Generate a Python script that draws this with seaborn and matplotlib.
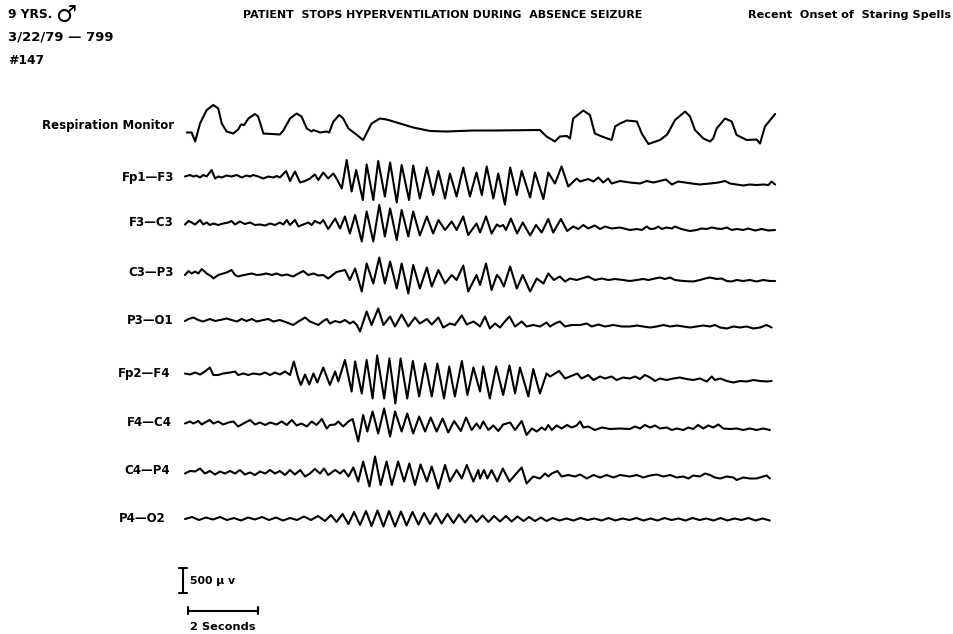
import matplotlib
matplotlib.use("Agg")
import numpy as np
import pandas as pd
import matplotlib.pyplot as plt
import seaborn as sns

# ---------------- data: time (s) and amplitude (µV) of the turning points ----------------
channels = ["Respiration Monitor", "Fp1—F3", "F3—C3", "C3—P3", "P3—O1",
            "Fp2—F4", "F4—C4", "C4—P4", "P4—O2"]

resp_t = [0.05,0.19,0.29,0.43,0.62,0.81,0.95,1.05,1.19,1.38,
          1.52,1.60,1.69,1.81,2.00,2.09,2.24,2.71,2.81,3.00,
          3.19,3.33,3.48,3.62,3.67,3.86,4.05,4.12,4.24,4.41,
          4.52,4.67,4.86,5.09,5.33,5.57,5.76,6.05,6.52,7.00,
          7.48,8.24,8.81,10.14,10.33,10.57,10.71,10.91,11.00,11.09,
          11.38,11.57,11.71,11.91,12.19,12.29,12.43,12.62,12.91,13.05,
          13.24,13.57,13.76,13.81,14.00,14.29,14.43,14.57,14.81,15.00,
          15.09,15.19,15.43,15.62,15.76,16.05,16.33,16.43,16.57,16.86]
resp_uv = [-110,-110,-290,70,340,440,370,70,-90,-130,
           -50,50,40,170,260,210,-130,-150,-70,170,
           270,210,-30,-90,-60,-110,-90,-110,110,240,
           170,-30,-130,-260,70,170,150,90,-10,-80,
           -90,-70,-70,-60,-190,-290,-190,-180,-230,170,
           330,240,-130,-190,-260,10,70,130,110,-130,
           -340,-260,-160,-110,140,310,210,-60,-230,-290,
           -230,-30,170,110,-160,-260,-250,-330,10,260]

fp1_f3_t = [0.00,0.14,0.24,0.33,0.43,0.52,0.62,0.76,0.86,0.95,
            1.05,1.19,1.33,1.48,1.62,1.76,1.86,1.95,2.09,2.24,
            2.38,2.52,2.62,2.71,2.89,3.00,3.14,3.29,3.43,3.57,
            3.71,3.81,3.95,4.09,4.24,4.33,4.48,4.62,4.76,4.89,
            5.08,5.19,5.38,5.52,5.71,5.86,6.05,6.19,6.40,6.52,
            6.71,6.91,7.09,7.24,7.43,7.57,7.76,7.95,8.14,8.33,
            8.48,8.62,8.81,8.95,9.14,9.29,9.48,9.62,9.86,10.00,
            10.24,10.38,10.57,10.76,10.95,11.19,11.29,11.52,11.67,11.81,
            11.95,12.09,12.19,12.43,12.71,13.00,13.19,13.38,13.57,13.74,
            13.91,14.09,14.29,14.48,14.71,15.00,15.24,15.43,15.57,15.76,
            15.95,16.14,16.33,16.52,16.67,16.76,16.86]
fp1_f3_uv = [10,40,10,30,-10,40,10,140,-30,10,
             -10,30,10,40,-10,30,10,40,10,-30,
             10,-10,20,-10,120,-80,110,-110,-80,-30,
             50,-60,90,-30,70,-30,-230,340,-290,140,
             -460,250,-460,320,-390,290,-510,240,-460,230,
             -430,190,-360,120,-430,70,-390,190,-390,90,
             -360,210,-430,70,-550,190,-360,120,-410,90,
             -440,90,-130,210,-190,-30,-90,-40,-90,-10,
             -110,-30,-130,-80,-110,-130,-80,-110,-80,-50,
             -150,-90,-110,-130,-150,-130,-110,-80,-130,-150,
             -170,-150,-160,-150,-160,-90,-150]

f3_c3_t = [0.00,0.10,0.19,0.29,0.43,0.52,0.62,0.71,0.81,0.95,
           1.09,1.24,1.33,1.43,1.57,1.71,1.86,2.00,2.14,2.29,
           2.43,2.57,2.71,2.81,2.91,3.00,3.14,3.24,3.38,3.52,
           3.62,3.71,3.86,3.95,4.09,4.14,4.29,4.43,4.57,4.71,
           4.86,5.05,5.19,5.38,5.55,5.71,5.86,6.05,6.19,6.38,
           6.52,6.71,6.91,7.09,7.24,7.43,7.62,7.76,7.95,8.09,
           8.33,8.43,8.60,8.76,8.91,9.00,9.09,9.17,9.31,9.49,
           9.65,9.86,10.03,10.19,10.38,10.52,10.74,10.92,11.09,11.24,
           11.38,11.52,11.71,11.86,12.00,12.19,12.43,12.71,12.91,13.05,
           13.19,13.29,13.43,13.52,13.62,13.76,13.91,14.00,14.14,14.29,
           14.43,14.62,14.76,14.91,15.05,15.19,15.33,15.48,15.62,15.76,
           15.95,16.09,16.29,16.48,16.67,16.86]
f3_c3_uv = [-10,60,30,-10,80,-10,30,-20,10,-20,
            10,30,60,-10,50,0,30,-20,-10,-30,
            10,-20,30,-10,80,-20,80,-50,-10,30,
            -20,60,10,80,-100,-50,110,-90,150,-190,
            180,-350,250,-350,380,-250,310,-320,280,-250,
            250,-230,150,-190,80,-120,50,-120,150,-220,
            10,-170,150,-190,-10,-50,-20,-120,110,-190,
            30,-230,-20,-170,100,-170,100,-140,-50,-100,
            -20,-90,-30,-100,-50,-90,-70,-120,-100,-120,
            -50,-100,-90,-50,-100,-70,-90,-50,-90,-120,
            -140,-120,-90,-100,-70,-90,-100,-70,-120,-100,
            -120,-90,-130,-100,-130,-120]

c3_p3_t = [0.00,0.10,0.19,0.29,0.38,0.48,0.62,0.76,0.81,0.95,
           1.09,1.19,1.33,1.43,1.52,1.62,1.76,1.91,2.05,2.19,
           2.33,2.48,2.62,2.76,2.91,3.09,3.24,3.38,3.52,3.67,
           3.81,3.95,4.09,4.33,4.57,4.71,4.86,5.05,5.19,5.38,
           5.55,5.71,5.86,6.05,6.19,6.38,6.52,6.71,6.91,7.05,
           7.24,7.43,7.62,7.76,7.95,8.09,8.33,8.43,8.60,8.76,
           8.91,9.00,9.11,9.29,9.48,9.65,9.86,10.05,10.24,10.38,
           10.54,10.71,10.86,11.00,11.19,11.33,11.52,11.71,11.91,12.09,
           12.29,12.52,12.71,12.91,13.09,13.24,13.43,13.57,13.71,13.86,
           14.00,14.24,14.52,14.71,14.86,15.00,15.19,15.33,15.48,15.62,
           15.76,15.95,16.14,16.33,16.52,16.71,16.86]
c3_p3_uv = [-40,40,-10,30,-10,80,-10,-70,-110,-40,
            -10,10,60,-40,-70,-50,-30,-10,-40,-30,
            -10,-40,-10,-50,-30,-70,-10,40,-40,-10,
            -50,-40,-110,20,60,-140,90,-370,190,-210,
            310,-210,230,-310,190,-410,160,-310,110,-270,
            60,-210,-40,-140,150,-370,-40,-240,190,-340,
            -40,-110,-270,130,-310,-40,-370,-110,-210,-10,
            -140,-70,-170,-110,-140,-110,-70,-140,-110,-140,
            -120,-140,-160,-140,-120,-140,-110,-90,-120,-90,
            -140,-160,-170,-140,-110,-90,-120,-110,-160,-170,
            -140,-160,-140,-170,-140,-160,-160]

p3_o1_t = [0.00,0.10,0.24,0.38,0.52,0.71,0.86,1.00,1.19,1.33,
           1.48,1.62,1.76,1.91,2.05,2.24,2.38,2.52,2.71,2.91,
           3.09,3.24,3.43,3.57,3.71,3.81,3.95,4.05,4.14,4.29,
           4.43,4.57,4.71,4.81,4.91,5.00,5.19,5.33,5.52,5.67,
           5.86,6.00,6.19,6.38,6.57,6.71,6.91,7.05,7.24,7.38,
           7.57,7.71,7.91,8.05,8.24,8.38,8.43,8.57,8.71,8.86,
           9.00,9.14,9.27,9.43,9.62,9.76,9.95,10.14,10.33,10.43,
           10.57,10.71,10.86,11.05,11.29,11.48,11.62,11.81,12.00,12.24,
           12.48,12.71,12.91,13.09,13.29,13.48,13.67,13.86,14.05,14.24,
           14.43,14.62,14.81,15.00,15.14,15.29,15.48,15.67,15.86,16.05,
           16.24,16.43,16.62,16.76]
p3_o1_uv = [-20,20,50,0,-30,20,-20,0,30,0,
            -30,20,-20,20,-30,0,20,-30,0,-50,
            -100,-30,50,-30,-70,-100,-20,20,-70,-20,
            -50,0,-70,-30,-100,-230,170,-100,230,-100,
            70,-130,110,-130,50,-70,20,-90,50,-150,
            -70,-100,90,-90,-30,-100,-130,70,-170,-70,
            -150,-30,70,-130,-30,-130,-100,-130,-50,-130,
            -70,-30,-130,-100,-100,-70,-130,-90,-130,-100,
            -130,-130,-110,-130,-150,-130,-100,-130,-110,-130,
            -150,-130,-110,-130,-100,-150,-170,-130,-150,-130,
            -170,-150,-100,-150]

fp2_f4_t = [0.00,0.14,0.29,0.43,0.57,0.71,0.81,0.95,1.09,1.29,
            1.43,1.52,1.67,1.81,1.95,2.14,2.29,2.43,2.57,2.71,
            2.86,3.00,3.11,3.24,3.31,3.43,3.55,3.67,3.78,3.95,
            4.14,4.29,4.38,4.57,4.76,4.86,5.05,5.19,5.36,5.49,
            5.69,5.84,6.01,6.16,6.35,6.51,6.69,6.86,7.05,7.21,
            7.40,7.55,7.71,7.91,8.07,8.24,8.43,8.52,8.71,8.89,
            9.09,9.27,9.43,9.57,9.81,9.95,10.14,10.33,10.43,10.69,
            10.86,11.00,11.21,11.33,11.52,11.67,11.86,12.00,12.19,12.33,
            12.52,12.71,12.86,13.00,13.14,13.29,13.43,13.57,13.76,13.95,
            14.14,14.33,14.52,14.71,14.91,15.05,15.14,15.29,15.48,15.67,
            15.86,16.05,16.24,16.43,16.62,16.76]
fp2_f4_uv = [-10,-30,10,-30,30,110,-40,-40,-10,10,
             30,-40,-10,-40,-10,-30,10,-40,10,-30,
             30,-40,230,-110,-240,-30,-230,-10,-190,110,
             -240,30,-170,260,-370,230,-410,260,-510,350,
             -510,290,-610,290,-510,240,-470,190,-470,190,
             -510,130,-470,240,-440,110,-370,130,-510,130,
             -440,150,-410,110,-470,80,-410,-10,-70,40,
             -110,-70,-10,-110,-40,-140,-70,-110,-70,-140,
             -90,-110,-70,-120,-40,-90,-160,-110,-140,-110,
             -90,-120,-140,-110,-170,-70,-140,-110,-160,-190,
             -160,-170,-140,-160,-170,-160]

f4_c4_t = [0.00,0.14,0.24,0.38,0.48,0.57,0.71,0.81,0.95,1.09,
           1.24,1.38,1.52,1.67,1.86,2.00,2.14,2.29,2.43,2.62,
           2.76,2.91,3.05,3.19,3.33,3.48,3.62,3.76,3.91,4.05,
           4.14,4.29,4.38,4.52,4.67,4.79,4.95,5.09,5.21,5.36,
           5.52,5.69,5.86,6.00,6.19,6.35,6.52,6.69,6.86,7.02,
           7.19,7.36,7.52,7.69,7.88,8.03,8.19,8.33,8.43,8.52,
           8.67,8.81,8.95,9.09,9.29,9.43,9.62,9.76,9.91,10.05,
           10.19,10.29,10.38,10.48,10.62,10.76,10.91,11.05,11.19,11.29,
           11.38,11.52,11.71,11.91,12.14,12.43,12.71,12.86,13.00,13.14,
           13.29,13.43,13.57,13.76,13.91,14.05,14.24,14.38,14.52,14.66,
           14.81,14.95,15.09,15.24,15.38,15.57,15.76,15.95,16.14,16.33,
           16.52,16.71]
f4_c4_uv = [10,50,10,60,-10,30,80,10,50,-10,
            30,50,-50,10,80,-10,30,-20,30,-10,
            50,-20,80,-30,10,-50,50,-20,100,-90,
            -20,-10,50,-50,50,100,-350,180,-150,250,
            -190,310,-250,250,-150,210,-190,150,-150,130,
            -150,110,-170,60,-140,130,-120,10,-90,50,
            -120,-30,-140,-10,30,-120,60,-220,-90,-150,
            -70,-120,-20,-120,-30,-90,-20,-70,-30,50,
            -70,-50,-120,-70,-100,-90,-100,-50,-90,-20,
            -70,-30,-90,-70,-120,-90,-120,-70,-100,-20,
            -90,-30,-70,-10,-90,-100,-90,-120,-90,-120,
            -90,-120]

c4_p4_t = [0.00,0.14,0.29,0.43,0.57,0.71,0.86,1.00,1.14,1.29,
           1.43,1.57,1.71,1.86,2.00,2.14,2.29,2.43,2.57,2.71,
           2.86,3.00,3.14,3.29,3.43,3.57,3.71,3.86,3.97,4.09,
           4.29,4.43,4.54,4.67,4.81,4.95,5.09,5.27,5.43,5.59,
           5.76,5.91,6.09,6.26,6.41,6.57,6.73,6.91,7.05,7.24,
           7.43,7.57,7.76,7.91,8.05,8.24,8.38,8.43,8.54,8.64,
           8.76,8.92,9.08,9.27,9.43,9.62,9.76,9.95,10.14,10.29,
           10.38,10.48,10.64,10.76,10.95,11.14,11.29,11.48,11.67,11.86,
           12.05,12.24,12.43,12.71,12.91,13.09,13.29,13.48,13.67,13.86,
           14.05,14.24,14.38,14.52,14.71,14.86,15.00,15.14,15.29,15.48,
           15.67,15.76,15.95,16.14,16.33,16.52,16.62,16.71]
c4_p4_uv = [-50,0,-10,50,-50,0,-70,-10,-50,0,
            -50,20,-70,-30,-80,-10,-50,20,-50,0,
            -80,20,-70,20,-110,-50,40,-50,50,-80,
            20,-50,20,-110,70,-210,190,-310,290,-280,
            190,-280,190,-210,150,-280,130,-210,90,-350,
            120,-210,20,-150,120,-210,20,-150,20,-150,
            20,-210,50,-210,-80,70,-250,-110,-150,-50,
            -110,-50,0,-110,-80,-110,-70,-150,-80,-130,
            -80,-130,-80,-110,-80,-130,-90,-70,-110,-80,
            -130,-110,-150,-90,-110,-50,-80,-130,-150,-110,
            -130,-180,-130,-150,-150,-110,-90,-150]

p4_o2_t = [0.00,0.20,0.40,0.60,0.80,1.00,1.20,1.40,1.60,1.80,
           2.00,2.20,2.40,2.60,2.80,3.00,3.20,3.40,3.60,3.80,
           4.00,4.17,4.33,4.50,4.67,4.83,5.00,5.17,5.33,5.50,
           5.67,5.83,6.00,6.17,6.33,6.50,6.67,6.83,7.00,7.17,
           7.33,7.50,7.67,7.83,8.00,8.17,8.33,8.50,8.67,8.83,
           9.00,9.17,9.33,9.50,9.67,9.83,10.00,10.17,10.33,10.50,
           10.70,10.90,11.10,11.30,11.50,11.70,11.90,12.10,12.30,12.50,
           12.70,12.90,13.10,13.30,13.50,13.70,13.90,14.10,14.30,14.50,
           14.70,14.90,15.10,15.30,15.50,15.70,15.90,16.10,16.30,16.50,16.71]
p4_o2_uv = [0,40,-20,30,-10,40,-20,20,-30,30,
            -10,40,-20,30,-30,20,-20,50,-20,60,
            -40,80,-60,100,-100,140,-120,160,-140,170,
            -150,160,-150,150,-130,140,-110,120,-100,110,
            -90,100,-80,90,-70,80,-60,70,-60,60,
            -50,60,-50,50,-40,40,-40,30,-40,20,
            -30,10,-30,20,-20,10,-30,20,-30,10,
            -20,20,-30,10,-30,20,-20,10,-30,20,
            -20,10,-30,20,-30,10,-20,20,-30,10,-30]

scale_uv = 500      # calibration bar
scale_s = 2         # time bar

# ---------------- layout ----------------
W, H = 954, 634
X0_PX, PX_PER_S, UV_PER_PX = 185, 35, 20
row_px = [127, 177, 224, 273, 320, 373, 424, 471, 519]
LW = 1.5

sns.set_theme(style="white")
plt.rcParams['font.family'] = ['DejaVu Sans']
plt.rcParams['lines.solid_joinstyle'] = 'round'
plt.rcParams['lines.solid_capstyle'] = 'round'

fig = plt.figure(figsize=(W / 100, H / 100), dpi=100)
ax = fig.add_axes([0, 0, 1, 1])
ax.set_xlim(-X0_PX / PX_PER_S, (W - X0_PX) / PX_PER_S)
ax.set_ylim(-H * UV_PER_PX, 0)
ax.set_axis_off()

series = [(resp_t, resp_uv), (fp1_f3_t, fp1_f3_uv), (f3_c3_t, f3_c3_uv),
          (c3_p3_t, c3_p3_uv), (p3_o1_t, p3_o1_uv), (fp2_f4_t, fp2_f4_uv),
          (f4_c4_t, f4_c4_uv), (c4_p4_t, c4_p4_uv), (p4_o2_t, p4_o2_uv)]

for name, (t, v), r in zip(channels, series, row_px):
    n = min(len(t), len(v))
    df = pd.DataFrame({"t": t[:n], "uv": np.array(v[:n]) - r * UV_PER_PX})
    sns.lineplot(data=df, x="t", y="uv", color="black", linewidth=LW,
                 estimator=None, sort=False, ax=ax, legend=False)

# calibration bars (data units)
vx = (183.3 - X0_PX) / PX_PER_S
vtop = -568 * UV_PER_PX
ax.plot([vx, vx], [vtop, vtop - scale_uv], color="black", lw=LW)
for yy in (vtop, vtop - scale_uv):
    ax.plot([vx - 0.11, vx + 0.11], [yy, yy], color="black", lw=LW)
hx0 = (188.3 - X0_PX) / PX_PER_S
hy = -610.7 * UV_PER_PX
ax.plot([hx0, hx0 + scale_s], [hy, hy], color="black", lw=LW)
for xx in (hx0, hx0 + scale_s):
    ax.plot([xx, xx], [hy - 70, hy + 70], color="black", lw=LW)

# ---------------- texts ----------------
renderer = fig.canvas.get_renderer()
FS = 8.5


def put_fit(s, x0, x1, y, ha="left", size=8):
    xa = x0 if ha == "left" else x1
    txt = fig.text(xa / W, 1 - y / H, s, ha=ha, va="center", fontsize=size,
                   fontweight="bold", color="black")
    w = txt.get_window_extent(renderer).width
    if w > 0:
        txt.set_fontsize(size * (x1 - x0) / w)
    return txt


def put(s, x, y, ha="left", size=FS):
    return fig.text(x / W, 1 - y / H, s, ha=ha, va="center", fontsize=size,
                    fontweight="bold", color="black")


put("9 YRS.", 8, 15, size=8.8)
fig.text(55 / W, 1 - 15 / H, "♂", ha="left", va="center", fontsize=17, color="black")
put("3/22/79 — 799", 8, 37, size=9.5)
put("#147", 8, 60, size=8.8)
put_fit("PATIENT  STOPS HYPERVENTILATION DURING  ABSENCE SEIZURE", 243, 640, 15)
put_fit("Recent  Onset of  Staring Spells", 748, 950, 15)

label_right = [174, 174, 174, 174, 174, 170, 172, 170, 166]
label_y = [125, 178, 223, 272, 320, 373, 423, 470, 519]
for name, xr, yy in zip(channels, label_right, label_y):
    put(name, xr, yy, ha="right")

put("500 µ v", 190, 581, size=7.8)
put("2 Seconds", 190, 627, size=8.2)

fig.savefig("out.png", dpi=100, facecolor="white")
